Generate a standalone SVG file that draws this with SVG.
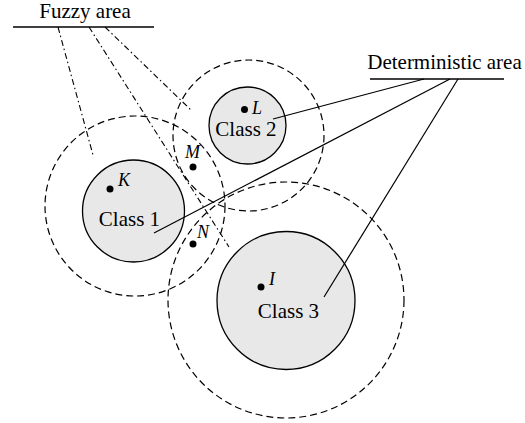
<svg xmlns="http://www.w3.org/2000/svg" width="525" height="423" viewBox="0 0 525 423">
<style>
.bg{fill:#ffffff}
.core{fill:#e8e8e8;stroke:#000;stroke-width:1.3}
.ring{fill:none;stroke:#000;stroke-width:1.2;stroke-dasharray:7 4}
.lbl{font-family:"Liberation Serif","Times New Roman",serif;font-size:21px;fill:#000}
.pt{font-family:"Liberation Serif","Times New Roman",serif;font-size:18px;font-style:italic;fill:#000}
.dot{fill:#000}
.solid{fill:none;stroke:#000;stroke-width:1.2}
.fuzzy{fill:none;stroke:#000;stroke-width:1.1;stroke-dasharray:6 3 1.5 3}
.rule{fill:none;stroke:#000;stroke-width:1.3}
</style>
<rect class="bg" x="0" y="0" width="525" height="423"/>
<g id="class1">
<circle class="core" cx="133.5" cy="211" r="51"/>
<circle class="ring" cx="135" cy="206" r="90"/>
<text class="lbl" x="129.5" y="226" text-anchor="middle">Class 1</text>
</g>
<g id="class2">
<circle class="core" cx="247.5" cy="125.5" r="38.5"/>
<circle class="ring" cx="248.5" cy="135.5" r="75.5"/>
<text class="lbl" x="246" y="136" text-anchor="middle">Class 2</text>
</g>
<g id="class3">
<circle class="core" cx="286" cy="300.5" r="69"/>
<circle class="ring" cx="286" cy="300" r="118"/>
<text class="lbl" x="288.5" y="318" text-anchor="middle">Class 3</text>
</g>
<g id="pointK"><circle class="dot" cx="110" cy="189" r="3.5"/><text class="pt" x="118" y="186">K</text></g>
<g id="pointL"><circle class="dot" cx="244.5" cy="109.5" r="3.5"/><text class="pt" x="252" y="114" font-size="17">L</text></g>
<g id="pointM"><circle class="dot" cx="193" cy="167" r="3.5"/><text class="pt" x="185" y="158">M</text></g>
<g id="pointN"><circle class="dot" cx="193" cy="244" r="3.5"/><text class="pt" x="197" y="238">N</text></g>
<g id="pointI"><circle class="dot" cx="261" cy="287" r="3.5"/><text class="pt" x="269" y="285">I</text></g>
<g id="fuzzy-area">
<text class="lbl" x="85" y="18" text-anchor="middle">Fuzzy area</text>
<line class="rule" x1="13" y1="27" x2="154" y2="27"/>
</g>
<g id="deterministic-area">
<text class="lbl" x="444.5" y="69" text-anchor="middle">Deterministic area</text>
<line class="rule" x1="370" y1="79" x2="504" y2="79"/>
</g>
<g id="connectors">
<line class="fuzzy" x1="58" y1="27" x2="93" y2="155"/>
<line class="fuzzy" x1="89" y1="27" x2="229" y2="247"/>
<line class="fuzzy" x1="105" y1="27" x2="192" y2="111"/>
<line class="solid" x1="424" y1="79" x2="273" y2="119"/>
<line class="solid" x1="450" y1="79" x2="154" y2="233"/>
<line class="solid" x1="458" y1="79" x2="324" y2="297"/>
</g>
</svg>
